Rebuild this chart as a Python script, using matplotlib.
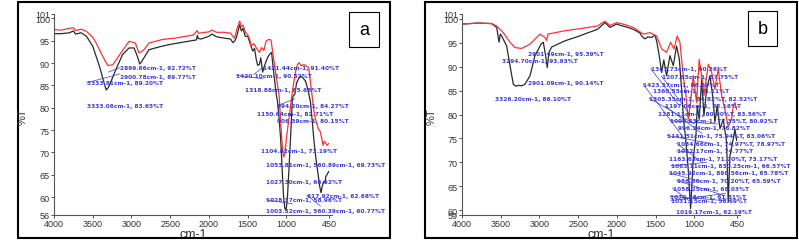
import numpy as np
import matplotlib
matplotlib.use('Agg')
import matplotlib.pyplot as plt
from matplotlib.patches import Rectangle

plt.rcParams['font.family'] = ['Liberation Sans', 'DejaVu Sans']

# ============================================================
# Spectra
# ============================================================
a_black_wn = [4000, 3900, 3800, 3750, 3720, 3650, 3580, 3500, 3413, 3360, 3327, 3300,
              3285, 3200, 3115, 3030, 2966, 2923, 2893, 2870, 2838, 2774, 2650, 2500,
              2263, 2160, 2150, 2135, 2100, 2000, 1960, 1900, 1800, 1720, 1690, 1667,
              1640, 1603, 1580, 1560, 1530, 1497, 1470, 1433, 1410, 1390, 1370, 1347,
              1330, 1305, 1280, 1241, 1215, 1190, 1170, 1148, 1130, 1113, 1090, 1071,
              1050, 1037, 1020, 1003, 986, 970, 952, 935, 922, 909, 890, 867, 840, 816,
              790, 752, 720, 688, 665, 645, 620, 594, 570, 552, 535, 517, 500, 490, 470, 453]
a_black_T = [96.6, 96.6, 96.8, 97.2, 96.5, 96.8, 96.0, 93.8, 89.3, 86.0, 84.0, 84.5,
             85.0, 88.6, 91.9, 93.4, 93.4, 91.5, 89.8, 90.3, 91.2, 93.0, 93.6, 94.2,
             94.9, 95.2, 96.2, 95.5, 95.4, 96.0, 96.5, 95.9, 95.6, 95.4, 94.6, 94.9,
             96.0, 98.6, 97.2, 97.8, 96.0, 96.0, 94.5, 92.7, 93.3, 91.0, 89.5, 89.7,
             91.2, 88.0, 89.5, 91.3, 92.0, 92.4, 89.0, 85.7, 83.0, 81.3, 77.0, 72.4,
             65.0, 60.5, 57.6, 57.0, 59.8, 65.0, 70.9, 77.0, 81.9, 82.7, 83.0, 85.6, 86.5, 87.1,
             86.8, 86.0, 84.0, 81.3, 77.0, 73.0, 69.0, 65.7, 62.5, 61.0, 62.5, 63.5, 63.2, 64.6, 65.2, 65.7]

a_red_wn = [4000, 3900, 3800, 3750, 3720, 3650, 3580, 3500, 3455, 3370, 3306, 3242,
            3136, 3030, 2950, 2902, 2870, 2838, 2774, 2600, 2433, 2200, 2150, 2135,
            2000, 1960, 1900, 1800, 1720, 1690, 1667, 1640, 1603, 1580, 1560, 1530,
            1497, 1470, 1455, 1420, 1390, 1347, 1320, 1290, 1262, 1230, 1198, 1180,
            1156, 1130, 1092, 1070, 1050, 1035, 1020, 1000, 978, 955, 935, 910, 880,
            860, 837, 805, 773, 740, 710, 690, 667, 645, 624, 590, 560, 540, 526, 510,
            497, 475, 453]
a_red_T = [97.5, 97.4, 97.8, 97.9, 97.3, 97.6, 97.1, 95.8, 94.5, 91.5, 89.5, 89.6,
           92.3, 94.9, 94.5, 92.3, 92.6, 93.0, 94.5, 95.3, 95.6, 96.3, 97.3, 96.7,
           97.0, 97.4, 96.9, 96.9, 96.7, 96.0, 95.6, 97.5, 99.4, 98.2, 98.5, 97.0,
           96.3, 95.2, 93.8, 94.4, 93.5, 92.4, 93.5, 92.8, 94.9, 95.3, 95.2, 93.0,
           90.1, 87.0, 82.7, 76.0, 71.0, 69.0, 69.5, 73.0, 76.0, 79.0, 81.9, 85.0, 88.2,
           89.5, 90.1, 89.4, 89.7, 89.3, 89.0, 86.0, 82.7, 79.5, 77.5, 75.5, 74.6, 73.0, 71.6, 72.5,
           72.3, 71.6, 72.0]

b_black_wn = [4000, 3800, 3617, 3552, 3522, 3505, 3488, 3423, 3380, 3337, 3300, 3273,
              3230, 3187, 3122, 3058, 2980, 2950, 2920, 2899, 2877, 2842, 2670, 2500,
              2370, 2250, 2154, 2089, 2003, 1950, 1880, 1788, 1700, 1680, 1637, 1600,
              1551, 1510, 1487, 1453, 1422, 1394, 1358, 1315, 1272, 1229, 1194, 1164,
              1143, 1108, 1079, 1048, 1014, 979, 962, 937, 905, 876, 841, 798, 764,
              734, 704, 669, 626, 583, 562, 540, 497, 475, 454]
b_black_T = [98.9, 99.1, 99.0, 98.2, 95.1, 96.8, 96.4, 94.3, 90.2, 86.3, 85.9, 86.1,
             86.0, 86.3, 88.1, 92.3, 94.7, 95.1, 92.3, 89.8, 93.0, 94.1, 95.4, 96.3,
             97.1, 97.8, 99.2, 98.2, 98.9, 98.6, 98.3, 97.8, 97.0, 96.4, 95.8, 96.2,
             96.1, 96.6, 95.4, 92.3, 88.8, 91.4, 88.1, 92.3, 90.2, 94.3, 91.6, 85.3,
             79.7, 74.2, 68.6, 60.3, 70.7, 75.6, 81.8, 79.0, 87.4, 79.7, 85.3, 88.1, 84.0,
             78.4, 82.0, 77.0, 79.0, 74.2, 61.7, 71.3, 74.9, 76.9, 74.6]

b_red_wn = [4000, 3800, 3617, 3552, 3467, 3380, 3316, 3230, 3122, 2993, 2929, 2907,
            2890, 2670, 2450, 2250, 2154, 2089, 2003, 1900, 1788, 1658, 1573, 1487,
            1422, 1358, 1306, 1263, 1221, 1186, 1143, 1108, 1079, 1048, 1014, 971,
            937, 905, 876, 819, 776, 734, 691, 647, 605, 562, 519, 497, 475, 454]
b_red_T = [98.9, 99.1, 99.0, 98.5, 97.1, 95.1, 94.0, 93.8, 94.7, 96.8, 96.1, 95.5,
           96.8, 97.5, 98.0, 98.5, 99.5, 98.6, 99.2, 98.8, 98.2, 96.8, 97.1, 96.4,
           93.7, 93.0, 95.1, 93.7, 96.4, 95.1, 88.1, 84.0, 79.0, 82.5, 88.1, 82.5,
           91.5, 88.1, 84.0, 90.5, 88.8, 85.3, 89.5, 84.0, 81.0, 77.5, 79.0, 81.8, 82.5, 81.1]

# peak labels: text, text position (cm-1, %T), peak it points to (None = no line)
a_labels = ['2899.66cm-1, 92.72%T', '2900.78cm-1, 89.77%T', '3333.81cm-1, 89.20%T',
            '3333.06cm-1, 83.65%T', '1421.44cm-1, 91.40%T', '1420.10cm-1, 90.52%T',
            '1318.88cm-1, 85.68%T', '994.20cm-1, 84.27%T', '1150.64cm-1, 82.71%T',
            '906.39cm-1, 80.15%T', '1104.82cm-1, 73.19%T', '1053.81cm-1, 560.89cm-1, 69.73%T',
            '1027.30cm-1, 66.62%T', '617.92cm-1, 62.68%T', '1028.37cm-1, 58.96%T',
            '1003.52cm-1, 560.39cm-1, 60.77%T']
a_text_x = [3148, 3148, 3575, 3575, 1305, 1646, 1531, 1114, 1378, 1114, 1327, 1263,
            1263, 731, 1263, 1263]
a_text_y = [89.0, 87.1, 85.6, 80.5, 89.0, 87.3, 84.0, 80.5, 78.8, 77.1, 70.5, 67.2,
            63.6, 60.4, 59.4, 57.0]
a_peak_x = [3300, None, 3150, None, 1420, 1300, None, 890, None, None, None, None,
            None, 560, 920, None]
a_peak_y = [88.0, None, 87.6, None, 87.5, 86.5, None, 82.0, None, None, None, None,
            None, 58.0, 58.5, None]

b_labels = ['2901.49cm-1, 95.39%T', '3294.70cm-1, 93.93%T', '2901.09cm-1, 90.14%T',
            '3326.20cm-1, 86.10%T', '1367.73cm-1, 90.26%T', '1207.85cm-1, 87.75%T',
            '1423.57cm-1, 86.59%T', '1360.55cm-1, 85.11%T', '1305.35cm-1, 84.82%T, 82.52%T',
            '1197.06cm-1, 82.16%T', '1281.11cm-1, 80.90%T, 83.56%T',
            '1090.83cm-1, 77.35%T, 80.92%T', '996.24cm-1, 76.82%T',
            '1141.51cm-1, 75.94%T, 83.06%T', '1034.66cm-1, 74.97%T, 78.97%T',
            '1032.17cm-1, 74.77%T', '1163.63cm-1, 71.70%T, 73.17%T',
            '1063.11cm-1, 830.25cm-1, 66.57%T', '1045.92cm-1, 898.56cm-1, 65.78%T',
            '986.50cm-1, 70.20%T, 65.59%T', '1058.25cm-1, 68.03%T',
            '1070.18cm-1, 61.81%T', '1031.15cm-1, 58.69%T', '1019.17cm-1, 62.19%T']
b_text_x = [3144, 3488, 3144, 3574, 1564, 1422, 1659, 1530, 1582, 1379, 1474, 1315,
            1215, 1350, 1228, 1228, 1324, 1300, 1324, 1228, 1280, 1315, 1300, 1237]
b_text_y = [92.8, 91.2, 86.6, 83.4, 89.6, 88.0, 86.3, 85.0, 83.4, 81.8, 80.2, 78.7,
            77.2, 75.6, 74.0, 72.4, 70.8, 69.3, 67.8, 66.2, 64.6, 62.9, 62.0, 59.8]
b_peak_x = [None, None, None, None, 1200, 1060, 1130, None, 1000, 900, None, 700,
            None, 800, 900, 1000, None, 840, 920, 600, 1030, 600, 600, None]
b_peak_y = [None, None, None, None, 82.0, 80.0, 75.0, None, 78.0, 76.0, None, 78.0,
            None, 74.0, 70.0, 72.0, None, 70.0, 66.0, 63.0, 61.5, 62.0, 63.5, None]

# ============================================================
# Plot
# ============================================================
fig = plt.figure(figsize=(7.99, 2.51), dpi=100)

panels = [
    dict(left=54, ylim=(56, 101), yticks=[56, 60, 65, 70, 75, 80, 85, 90, 95, 100, 101],
         black=(a_black_wn, a_black_T), red=(a_red_wn, a_red_T),
         labels=(a_labels, a_text_x, a_text_y, a_peak_x, a_peak_y),
         frame=(18, 390), tag='a', tagbox=(349, 13, 379, 48), ylab_x=23),
    dict(left=462, ylim=(59, 101), yticks=[59, 60, 65, 70, 75, 80, 85, 90, 95, 100, 101],
         black=(b_black_wn, b_black_T), red=(b_red_wn, b_red_T),
         labels=(b_labels, b_text_x, b_text_y, b_peak_x, b_peak_y),
         frame=(425, 797), tag='b', tagbox=(748, 12, 777, 47), ylab_x=432),
]

W, H = 799, 251
for p in panels:
    ax = fig.add_axes([p['left'] / W, (H - 216) / H, 278 / W, 201 / H])
    ax.plot(*p['black'], color='#2a2a2a', lw=0.9)
    ax.plot(*p['red'], color='#ff3030', lw=0.9)
    ax.set_xlim(4000, 410)
    ax.set_ylim(*p['ylim'])
    ax.set_xticks([4000, 3500, 3000, 2500, 2000, 1500, 1000, 450])
    ax.set_yticks(p['yticks'])
    ax.tick_params(labelsize=6.5, length=2, width=0.6, pad=1, colors='#333333')
    for s in ['top', 'right']:
        ax.spines[s].set_visible(False)
    for s in ['left', 'bottom']:
        ax.spines[s].set_color('#555555')
        ax.spines[s].set_linewidth(0.8)
    ax.set_xlabel('cm-1', fontsize=9, labelpad=0, color='#333333')

    labels, tx, ty, px, py = p['labels']
    for lab, x, y, x2, y2 in zip(labels, tx, ty, px, py):
        ax.text(x, y, lab, fontsize=4.2, color='#3a3ad8', ha='left', va='center',
                fontweight='bold', family='DejaVu Sans')
        if x2 is not None:
            ax.plot([x, x2], [y, y2], color='#3a3ad8', lw=0.5)

    fig.text(p['ylab_x'] / W, (H - 117) / H, '%T', rotation=90, fontsize=8,
             ha='center', va='center', color='#333333')

    x0, x1 = p['frame']
    fig.patches.append(Rectangle((x0 / W, (H - 239) / H), (x1 - x0) / W, 236 / H,
                                 transform=fig.transFigure, fill=False, lw=1.5,
                                 edgecolor='black'))
    bx0, by0, bx1, by1 = p['tagbox']
    fig.patches.append(Rectangle((bx0 / W, (H - by1) / H), (bx1 - bx0) / W, (by1 - by0) / H,
                                 transform=fig.transFigure, fill=True, facecolor='white',
                                 lw=0.8, edgecolor='black'))
    fig.text((bx0 + bx1) / 2 / W, (H - (by0 + by1) / 2) / H, p['tag'], fontsize=13,
             ha='center', va='center', family='Liberation Sans')

fig.savefig('out.png', dpi=100)
